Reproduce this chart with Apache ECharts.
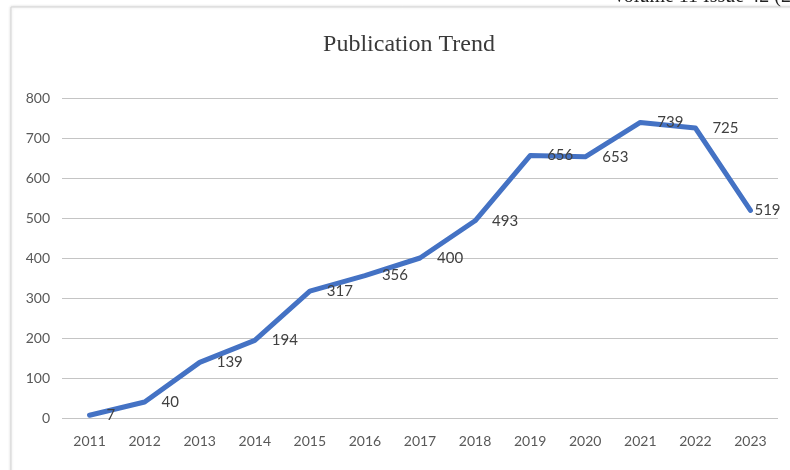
<!DOCTYPE html>
<html>
<head>
<meta charset="utf-8">
<script src="https://cdn.jsdelivr.net/npm/echarts@6/dist/echarts.min.js"></script>
<style>
  html, body { margin: 0; padding: 0; background: #ffffff; }
  #chart { width: 790px; height: 470px; }
</style>
</head>
<body>
<div id="chart"></div>
<script>
// Yearly publication counts
const years = ['2011', '2012', '2013', '2014', '2015', '2016', '2017', '2018', '2019', '2020', '2021', '2022', '2023'];
const publications = [7, 40, 139, 194, 317, 356, 400, 493, 656, 653, 739, 725, 519];
const yTicks = [0, 100, 200, 300, 400, 500, 600, 700, 800];

const chart = echarts.init(document.getElementById('chart'), null, { renderer: 'canvas' });

const seriesData = publications.map((v, i) => {
  // the final point sits against the right edge, so its label hugs the line end
  if (i === publications.length - 1) {
    return { value: v, label: { distance: 3 } };
  }
  return v;
});

chart.setOption({
  backgroundColor: '#ffffff',
  animation: false,
  graphic: [
    {
      type: 'rect',
      shape: { x: 11, y: 7, width: 800, height: 480 },
      style: { fill: '#ffffff', stroke: '#d6d6d6', lineWidth: 1, shadowBlur: 3, shadowColor: 'rgba(0,0,0,0.15)' },
      z: -10
    },
    {
      type: 'text',
      left: 612,
      top: -13,
      style: {
        text: 'Volume 11 Issue 42 (2024)',
        font: '20px "Liberation Serif", serif',
        fill: '#222222'
      }
    }
  ],
  title: {
    text: 'Publication Trend',
    left: 404,
    top: 28,
    textAlign: 'center',
    textStyle: {
      fontFamily: '"Liberation Serif", "DejaVu Serif", serif',
      fontSize: 24,
      fontWeight: 'normal',
      color: '#3a3a3a'
    }
  },
  grid: { left: 62, right: 12, top: 98, bottom: 52, containLabel: false },
  xAxis: {
    type: 'category',
    data: years,
    boundaryGap: true,
    axisLine: { show: false },
    axisTick: { show: false },
    axisLabel: {
      color: '#595959',
      fontFamily: 'Lato, "Liberation Sans", sans-serif',
      fontSize: 14,
      margin: 16
    }
  },
  yAxis: {
    type: 'value',
    min: yTicks[0],
    max: yTicks[yTicks.length - 1],
    interval: 100,
    axisLine: { show: false },
    axisTick: { show: false },
    axisLabel: {
      color: '#595959',
      fontFamily: 'Lato, "Liberation Sans", sans-serif',
      fontSize: 14,
      margin: 12
    },
    splitLine: { lineStyle: { color: '#c4c4c4', width: 1 } }
  },
  series: [{
    type: 'line',
    data: seriesData,
    symbol: 'circle',
    symbolSize: 2,
    showSymbol: true,
    itemStyle: { color: 'rgba(68,114,196,0)', borderWidth: 0 },
    smooth: false,
    lineStyle: { color: '#4472c4', width: 5, cap: 'round', join: 'round' },
    labelLayout: { hideOverlap: false },
    label: {
      show: true,
      position: 'right',
      distance: 16,
      color: '#404040',
      fontFamily: 'Lato, "Liberation Sans", sans-serif',
      fontSize: 15
    }
  }]
});
</script>
</body>
</html>
